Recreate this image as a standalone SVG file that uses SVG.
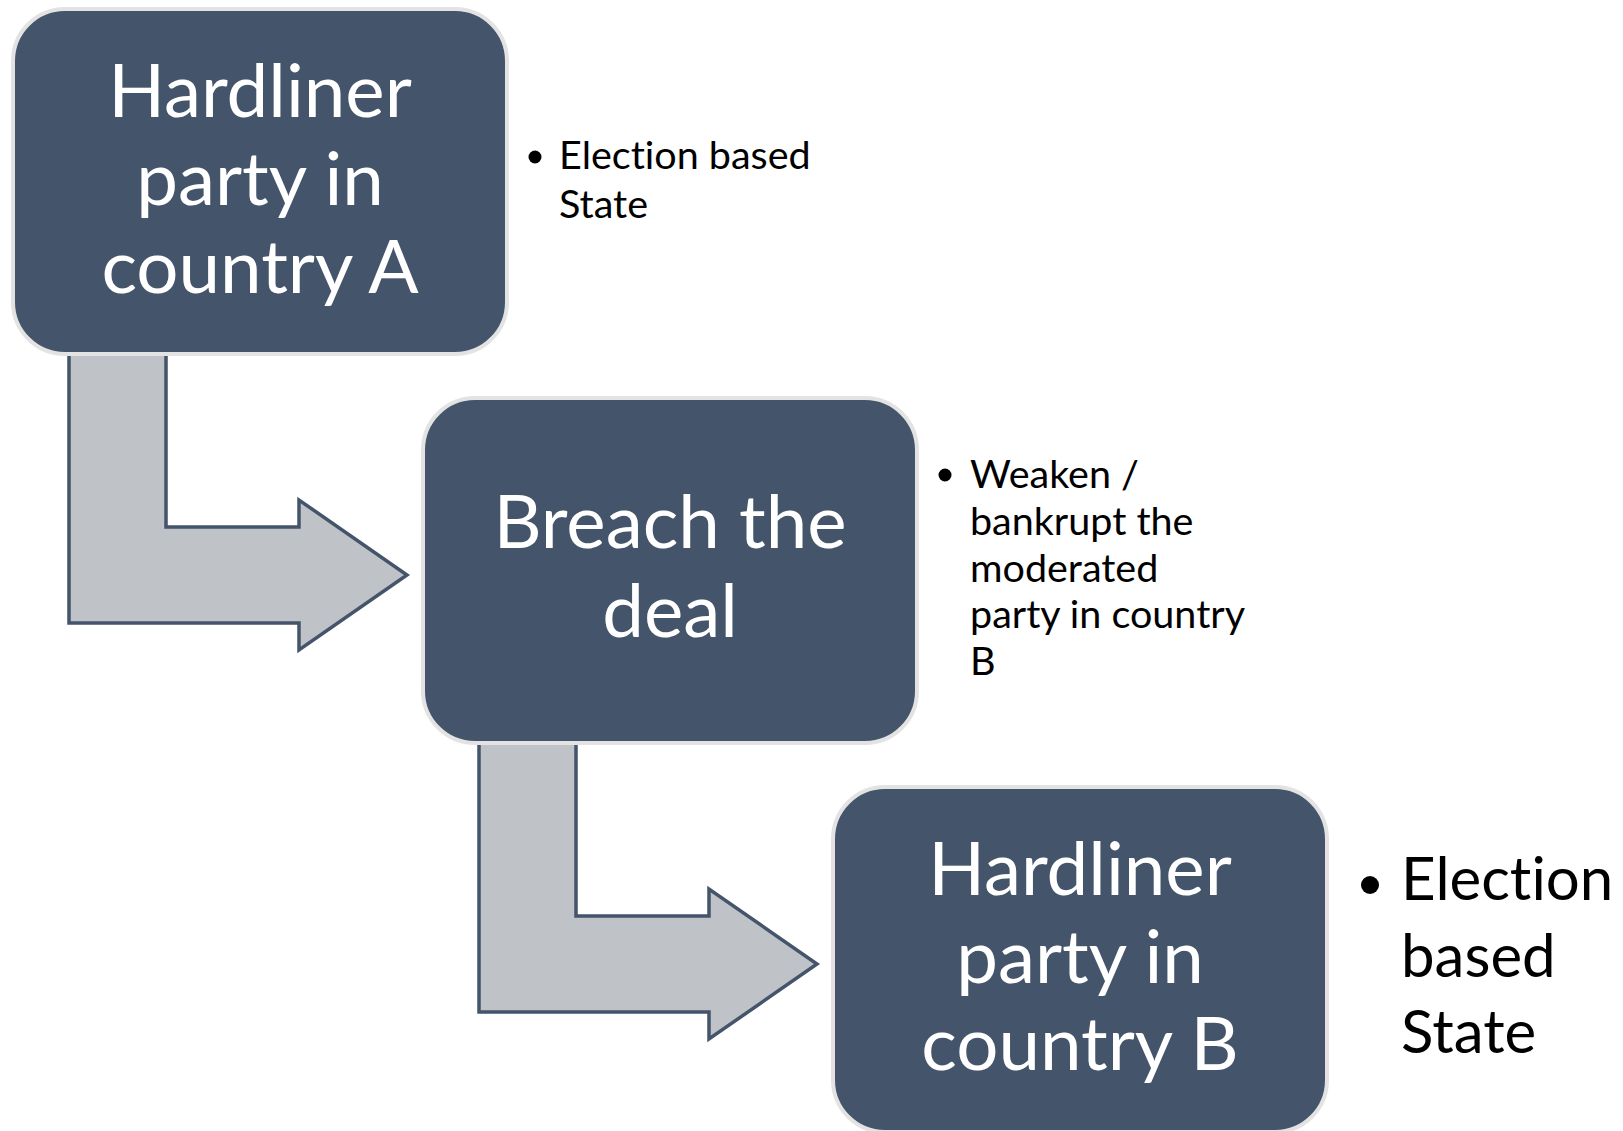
<svg xmlns="http://www.w3.org/2000/svg" width="1623" height="1131" viewBox="0 0 1623 1131">
<style>
text{font-variant-ligatures:none;font-feature-settings:"liga" 0,"dlig" 0}
.box{fill:#44546A;stroke:#E3E3E3;stroke-width:4}
.arrow{fill:#BFC3C8;stroke:#44546A;stroke-width:3.5;stroke-linejoin:miter}
.big{font-family:Lato,"Liberation Sans",sans-serif;font-size:74.5px;fill:#FFFFFF;text-anchor:middle}
.note{font-family:Lato,"Liberation Sans",sans-serif;font-size:39.5px;fill:#000000}
.noteL{font-family:Lato,"Liberation Sans",sans-serif;font-size:60px;fill:#000000}
</style>
<rect width="1623" height="1131" fill="#FFFFFF"/>
<g id="connectors">
<path class="arrow" d="M69,350 L166,350 L166,527 L299,527 L299,500 L407,575 L299,650 L299,623 L69,623 Z"/>
<path class="arrow" d="M479,739 L576,739 L576,916 L709,916 L709,889 L817,964 L709,1039 L709,1012 L479,1012 Z"/>
</g>
<g id="node-a">
<rect class="box" x="13" y="9" width="494" height="345" rx="52" ry="52"/>
<text class="big" x="260" y="117">Hardliner</text>
<text class="big" x="260" y="205">party in</text>
<text class="big" x="260" y="293">country A</text>
</g>
<g id="note-a">
<circle cx="535" cy="157" r="6.5" fill="#000000"/>
<text class="note" x="559" y="169">Election based</text>
<text class="note" x="559" y="218">State</text>
</g>
<g id="node-b">
<rect class="box" x="423" y="398" width="494" height="345" rx="52" ry="52"/>
<text class="big" x="670" y="548">Breach the</text>
<text class="big" x="670" y="637">deal</text>
</g>
<g id="note-b">
<circle cx="945" cy="475" r="6.5" fill="#000000"/>
<text class="note" x="970" y="488">Weaken /</text>
<text class="note" x="970" y="535">bankrupt the</text>
<text class="note" x="970" y="582">moderated</text>
<text class="note" x="970" y="628">party in country</text>
<text class="note" x="970" y="675">B</text>
</g>
<g id="node-c">
<rect class="box" x="833" y="787" width="494" height="345" rx="52" ry="52"/>
<text class="big" x="1080" y="895">Hardliner</text>
<text class="big" x="1080" y="983">party in</text>
<text class="big" x="1080" y="1070">country B</text>
</g>
<g id="note-c">
<circle cx="1370" cy="885" r="9" fill="#000000"/>
<text class="noteL" x="1401" y="900">Election</text>
<text class="noteL" x="1401" y="977">based</text>
<text class="noteL" x="1401" y="1053">State</text>
</g>
</svg>
